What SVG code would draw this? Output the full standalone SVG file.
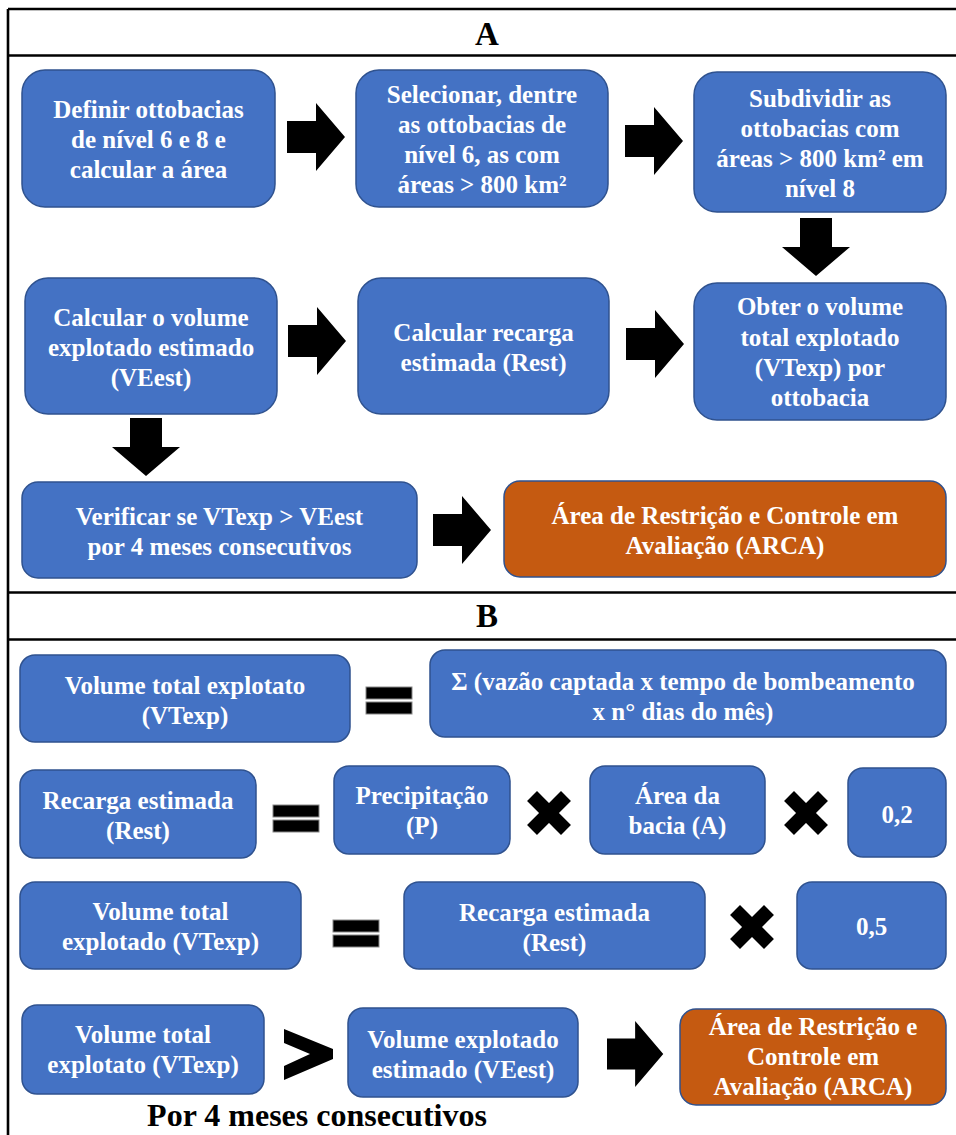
<svg xmlns="http://www.w3.org/2000/svg" width="956" height="1135" viewBox="0 0 956 1135">
<style>
.b{fill:#4472C4;stroke:#2F528F;stroke-width:1.5}
.o{fill:#C55A11;stroke:#2F528F;stroke-width:1.5}
.t{font-family:"Liberation Serif","Times New Roman",serif;font-weight:bold;font-size:25px;fill:#fff;text-anchor:middle}
.h{font-family:"Liberation Serif","Times New Roman",serif;font-weight:bold;font-size:33px;fill:#000;text-anchor:middle}
.k{fill:#000}
.eq{fill:#000;stroke:#888;stroke-width:1}
.ln{stroke:#000;stroke-width:2.6;fill:none}
</style>
<defs>
<path id="ar" d="M0,-16 H29 V-34 L58,0 L29,34 V16 H0 Z"/>
<g id="eqs"><rect x="0" y="0" width="46" height="12" class="eq"/><rect x="0" y="15" width="46" height="12" class="eq"/></g>
<g id="mul"><rect x="-24" y="-7" width="48" height="14" transform="rotate(45)"/><rect x="-24" y="-7" width="48" height="14" transform="rotate(-45)"/></g>
</defs>
<rect width="956" height="1135" fill="#fff"/>
<g id="frame">
<line class="ln" x1="8" y1="9" x2="956" y2="9"/>
<line class="ln" x1="8" y1="9" x2="8" y2="1135"/>
<line class="ln" x1="8" y1="55.5" x2="956" y2="55.5"/>
<line class="ln" x1="8" y1="592.5" x2="956" y2="592.5"/>
<line class="ln" x1="8" y1="639.5" x2="956" y2="639.5"/>
<text class="h" x="487" y="45">A</text>
<text class="h" x="487" y="627">B</text>
</g>
<g id="connectors" class="k">
<use href="#ar" transform="translate(287,137)"/>
<use href="#ar" transform="translate(625,141)"/>
<use href="#ar" transform="translate(816,218) rotate(90)"/>
<use href="#ar" transform="translate(288,341)"/>
<use href="#ar" transform="translate(626,344)"/>
<use href="#ar" transform="translate(146,418) rotate(90)"/>
<use href="#ar" transform="translate(433,530)"/>
<use href="#eqs" transform="translate(366,687)"/>
<use href="#eqs" transform="translate(273,805)"/>
<use href="#mul" transform="translate(549,813)"/>
<use href="#mul" transform="translate(806,813)"/>
<use href="#eqs" transform="translate(333,920)"/>
<use href="#mul" transform="translate(752,927)"/>
<polygon points="284,1029 333,1049 333,1059 284,1080 284,1066 310,1054 284,1043"/>
<use href="#ar" transform="translate(607,1054) scale(0.97)"/>
</g>
<g id="n1"><rect class="b" x="22" y="70" width="253" height="137" rx="23"/>
<text class="t" x="148.5"><tspan x="148.5" y="118">Definir ottobacias</tspan><tspan x="148.5" y="148">de nível 6 e 8 e</tspan><tspan x="148.5" y="178">calcular a área</tspan></text></g>
<g id="n2"><rect class="b" x="356" y="70" width="252" height="137" rx="23"/>
<text class="t"><tspan x="482" y="103">Selecionar, dentre</tspan><tspan x="482" y="133">as ottobacias de</tspan><tspan x="482" y="163">nível 6, as com</tspan><tspan x="482" y="193">áreas &gt; 800 km²</tspan></text></g>
<g id="n3"><rect class="b" x="694" y="72" width="252" height="140" rx="23"/>
<text class="t"><tspan x="820" y="107">Subdividir as</tspan><tspan x="820" y="137">ottobacias com</tspan><tspan x="820" y="167">áreas &gt; 800 km² em</tspan><tspan x="820" y="197">nível 8</tspan></text></g>
<g id="n4"><rect class="b" x="25" y="278" width="252" height="136" rx="23"/>
<text class="t"><tspan x="151" y="326">Calcular o volume</tspan><tspan x="151" y="356">explotado estimado</tspan><tspan x="151" y="386">(VEest)</tspan></text></g>
<g id="n5"><rect class="b" x="358" y="278" width="251" height="136" rx="23"/>
<text class="t"><tspan x="483.5" y="341">Calcular recarga</tspan><tspan x="483.5" y="371">estimada (Rest)</tspan></text></g>
<g id="n6"><rect class="b" x="694" y="283" width="252" height="137" rx="23"/>
<text class="t"><tspan x="820" y="315">Obter o volume</tspan><tspan x="820" y="346">total explotado</tspan><tspan x="820" y="376">(VTexp) por</tspan><tspan x="820" y="406">ottobacia</tspan></text></g>
<g id="n7"><rect class="b" x="22" y="482" width="395" height="96" rx="16"/>
<text class="t"><tspan x="219.5" y="525">Verificar se VTexp &gt; VEest</tspan><tspan x="219.5" y="555">por 4 meses consecutivos</tspan></text></g>
<g id="n8"><rect class="o" x="504" y="481" width="442" height="96" rx="16"/>
<text class="t"><tspan x="725" y="524">Área de Restrição e Controle em</tspan><tspan x="725" y="554">Avaliação (ARCA)</tspan></text></g>
<g id="b1"><rect class="b" x="20" y="655" width="330" height="87" rx="15"/>
<text class="t"><tspan x="185" y="694">Volume total explotato</tspan><tspan x="185" y="724">(VTexp)</tspan></text></g>
<g id="b2"><rect class="b" x="430" y="650" width="516" height="87" rx="15"/>
<text class="t"><tspan x="683" y="690">Σ (vazão captada x tempo de bombeamento</tspan><tspan x="683" y="720">x n° dias do mês)</tspan></text></g>
<g id="b3"><rect class="b" x="20" y="770" width="236" height="88" rx="15"/>
<text class="t"><tspan x="138" y="809">Recarga estimada</tspan><tspan x="138" y="839">(Rest)</tspan></text></g>
<g id="b4"><rect class="b" x="334" y="766" width="176" height="88" rx="15"/>
<text class="t"><tspan x="422" y="804">Precipitação</tspan><tspan x="422" y="834">(P)</tspan></text></g>
<g id="b5"><rect class="b" x="590" y="766" width="175" height="88" rx="15"/>
<text class="t"><tspan x="677.5" y="804">Área da</tspan><tspan x="677.5" y="834">bacia (A)</tspan></text></g>
<g id="b6"><rect class="b" x="848" y="768" width="98" height="89" rx="15"/>
<text class="t" x="897" y="823">0,2</text></g>
<g id="b7"><rect class="b" x="20" y="882" width="281" height="87" rx="15"/>
<text class="t"><tspan x="160.5" y="920">Volume total</tspan><tspan x="160.5" y="950">explotado (VTexp)</tspan></text></g>
<g id="b8"><rect class="b" x="404" y="882" width="301" height="87" rx="15"/>
<text class="t"><tspan x="554.5" y="921">Recarga estimada</tspan><tspan x="554.5" y="951">(Rest)</tspan></text></g>
<g id="b9"><rect class="b" x="797" y="882" width="149" height="87" rx="15"/>
<text class="t" x="871.5" y="935">0,5</text></g>
<g id="b10"><rect class="b" x="22" y="1005" width="242" height="89" rx="15"/>
<text class="t"><tspan x="143" y="1043">Volume total</tspan><tspan x="143" y="1073">explotato (VTexp)</tspan></text></g>
<g id="b11"><rect class="b" x="348" y="1008" width="230" height="89" rx="15"/>
<text class="t"><tspan x="463" y="1048">Volume explotado</tspan><tspan x="463" y="1078">estimado (VEest)</tspan></text></g>
<g id="b12"><rect class="o" x="680" y="1009" width="266" height="96" rx="16"/>
<text class="t"><tspan x="813" y="1035">Área de Restrição e</tspan><tspan x="813" y="1065">Controle em</tspan><tspan x="813" y="1095">Avaliação (ARCA)</tspan></text></g>
<text x="317" y="1126" style="font-family:'Liberation Serif','Times New Roman',serif;font-weight:bold;font-size:32px;fill:#000;text-anchor:middle">Por 4 meses consecutivos</text>
</svg>
